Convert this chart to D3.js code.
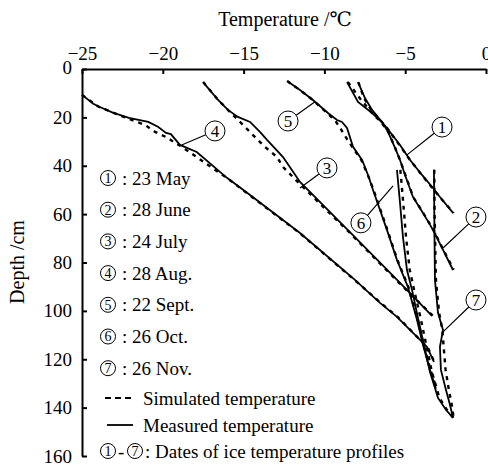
<!DOCTYPE html>
<html>
<head>
<meta charset="utf-8">
<script src="https://cdn.jsdelivr.net/npm/d3@7"></script>
<style>
  body { margin: 0; background: #fff; }
  svg text { font-family: "Liberation Serif", "Times New Roman", Tinos, "DejaVu Serif", serif; fill: #000; }
</style>
</head>
<body>
<div id="chart"></div>
<script>
// profile dates
var profileNames = ["23 May", "28 June", "24 July", "28 Aug.", "22 Sept.", "26 Oct.", "26 Nov."];

// measured profiles: [temperature, depth]
var measured1 = [[-7.92,5.4],[-7.49,12.0],[-7.05,16.9],[-6.44,21.9],[-6.13,24.4],[-5.32,31.4],[-4.7,37.6],[-3.96,43.8],[-3.28,49.2],[-2.85,52.9],[-2.04,59.5]];
var measured2 = [[-8.6,5.4],[-7.92,13.6],[-7.05,18.2],[-6.44,21.9],[-6.06,26.0],[-5.63,32.6],[-5.32,37.6],[-5.01,43.8],[-4.52,52.9],[-3.9,59.5],[-3.28,66.5],[-2.66,74.8],[-2.04,83.1]];
var measured3 = [[-17.51,5.4],[-16.58,12.8],[-15.97,16.9],[-15.35,19.8],[-14.6,21.9],[-13.99,26.0],[-13.55,29.3],[-12.56,36.4],[-11.51,46.7],[-8.42,67.4],[-5.32,88.4],[-3.34,102.1]];
var measured4 = [[-25,10.7],[-24.3,14.4],[-23.9,15.7],[-23.1,18.0],[-22.1,20.2],[-20.9,21.9],[-20.3,23.9],[-19.8,26.4],[-19.5,26.9],[-18.94,31.4],[-17.9,34.3],[-16.03,45.0],[-14.6,52.1],[-11.51,67.8],[-8.11,87.2],[-6.56,96.7],[-5.51,102.5],[-4.08,112.0],[-3.65,114.9],[-3.22,121.1]];
var measured5 = [[-12.31,5.0],[-11.51,8.7],[-10.71,12.8],[-9.78,18.2],[-9.22,21.1],[-8.91,21.9],[-8.6,24.4],[-8.23,32.2],[-7.67,37.6],[-7.3,43.8],[-6.99,50.0],[-6.13,66.5],[-5.51,78.9],[-4.83,90.1],[-4.27,103.7],[-3.9,114.0],[-3.47,124.4],[-3.1,132.2]];
var measured6 = [[-5.51,41.7],[-5.32,55.4],[-5.14,69.4],[-4.89,83.1],[-4.58,91.3],[-4.21,102.9],[-3.84,114.0],[-3.47,125.2],[-2.97,136.0],[-2.48,140.9],[-2.04,144.2]];
var measured7 = [[-3.22,41.7],[-3.2,60.0],[-3.16,87.2],[-2.97,100.8],[-2.66,107.9],[-2.85,114.9],[-2.79,124.4],[-2.48,132.6],[-2.23,138.8],[-2.04,144.2]];

// simulated profiles: [temperature, depth]
var simulated1 = [[-7.9,5.4],[-7.55,12.0],[-7.1,17.0],[-6.5,21.5],[-6.1,24.6],[-5.35,31.5],[-4.7,37.6],[-3.95,44.0],[-3.3,49.4],[-2.8,53.4],[-2.0,59.5]];
var simulated2 = [[-8.55,5.4],[-7.75,12.6],[-7.0,18.6],[-6.45,22.2],[-6.0,26.6],[-5.6,33.0],[-5.3,38.0],[-4.98,44.0],[-4.5,53.0],[-3.88,59.6],[-3.25,66.6],[-2.62,75.0],[-2.0,83.0]];
var simulated3 = [[-17.5,5.4],[-16.6,12.6],[-15.9,17.4],[-15.22,21.9],[-14.42,27.3],[-13.68,32.2],[-12.93,36.4],[-12.56,40.5],[-12.25,42.6],[-11.6,47.0],[-8.45,67.6],[-5.35,88.6],[-3.3,102.0]];
var simulated4 = [[-25,10.7],[-24.0,15.5],[-22.5,19.6],[-21.6,21.9],[-21.1,23.1],[-20.48,26.0],[-19.68,28.5],[-19.25,30.6],[-18.9,31.8],[-16.0,45.2],[-14.6,52.3],[-11.5,68.0],[-8.1,87.4],[-6.5,96.8],[-5.45,102.6],[-4.05,112.2],[-3.6,115.2],[-3.2,121.0]];
var simulated5 = [[-12.3,5.0],[-11.5,8.8],[-10.7,12.9],[-9.8,18.4],[-9.3,21.6],[-8.97,25.0],[-8.6,29.0],[-8.2,33.0],[-7.7,37.8],[-7.3,44.0],[-6.95,50.2],[-6.1,66.6],[-5.48,79.0],[-4.8,90.2],[-4.22,103.8],[-3.86,114.2],[-3.42,124.6],[-3.05,132.4]];
var simulated6 = [[-5.3,41.7],[-5.12,55.4],[-4.95,69.4],[-4.72,83.1],[-4.45,91.3],[-4.05,102.9],[-3.7,114.0],[-3.35,125.2],[-2.88,136.0],[-2.42,140.9],[-2.02,144.2]];
var simulated7 = [[-3.2,41.7],[-3.18,60.0],[-3.1,87.2],[-2.9,100.8],[-2.7,107.9],[-2.62,114.9],[-2.5,124.4],[-2.3,132.6],[-2.12,138.8],[-2.0,144.2]];

var xTicks = [-25, -20, -15, -10, -5, 0];
var yTicks = [0, 20, 40, 60, 80, 100, 120, 140, 160];

var measured = [measured1, measured2, measured3, measured4, measured5, measured6, measured7];
var simulated = [simulated1, simulated2, simulated3, simulated4, simulated5, simulated6, simulated7];

var FONT = '"Liberation Serif", "Times New Roman", Tinos, "DejaVu Serif", serif';
var width = 488, height = 466;

var svg = d3.select("#chart").append("svg")
  .attr("width", width)
  .attr("height", height)
  .style("font-family", FONT);

var x = d3.scaleLinear().domain([-25, 0]).range([82, 486]);
var y = d3.scaleLinear().domain([0, 160]).range([69, 456]);

// axes, ticks point inward
var xAxis = svg.append("g")
  .attr("transform", "translate(0," + y(0) + ")")
  .call(d3.axisTop(x).tickValues(xTicks).tickSize(-5).tickSizeOuter(0).tickPadding(9));
var yAxis = svg.append("g")
  .attr("transform", "translate(" + x(-25) + ",0)")
  .call(d3.axisLeft(y).tickValues(yTicks).tickSize(-5).tickSizeOuter(0).tickPadding(10));

[xAxis, yAxis].forEach(function(g) {
  g.attr("font-family", FONT).attr("font-size", 19);
  g.selectAll("path, line").attr("stroke", "#000").attr("stroke-width", 2);
  g.selectAll("text").style("font-size", "19px").style("font-family", FONT);
});
// the depth "0" sits just under the corner
yAxis.selectAll(".tick text").filter(function(d) { return d === 0; }).attr("dy", "0.25em");

// axis titles
svg.append("text")
  .attr("x", 285).attr("y", 26)
  .attr("text-anchor", "middle")
  .style("font-size", "20px")
  .text("Temperature /℃");

svg.append("text")
  .attr("transform", "translate(24,262) rotate(-90)")
  .attr("text-anchor", "middle")
  .style("font-size", "20px")
  .text("Depth /cm");

var line = d3.line()
  .x(function(d) { return x(d[0]); })
  .y(function(d) { return y(d[1]); });

svg.append("g").selectAll("path")
  .data(measured)
  .enter().append("path")
  .attr("d", line)
  .attr("fill", "none")
  .attr("stroke", "#000")
  .attr("stroke-width", 1.8);

svg.append("g").selectAll("path")
  .data(simulated)
  .enter().append("path")
  .attr("d", line)
  .attr("fill", "none")
  .attr("stroke", "#000")
  .attr("stroke-width", 2.4)
  .attr("stroke-dasharray", "4,5");

// circled callouts: [circle centre], [leader end], in data units
var callouts = [
  {n: "1", c: [-2.72, 24.0], e: [-4.89, 35.5]},
  {n: "2", c: [-0.62, 61.2], e: [-2.66, 74.0]},
  {n: "3", c: [-9.84, 40.9], e: [-11.51, 49.2]},
  {n: "4", c: [-16.77, 25.6], e: [-18.83, 31.4]},
  {n: "5", c: [-12.25, 21.5], e: [-10.58, 13.5]},
  {n: "6", c: [-7.74, 63.6], e: [-5.75, 48.3]},
  {n: "7", c: [-0.62, 95.5], e: [-2.66, 108.7]}
];

function circled(g, cx, cy, r, digit, fs) {
  g.append("circle").attr("cx", cx).attr("cy", cy).attr("r", r)
    .attr("fill", "#fff").attr("stroke", "#000").attr("stroke-width", 1);
  g.append("text").attr("x", cx).attr("y", cy)
    .attr("text-anchor", "middle").attr("dy", "0.35em")
    .style("font-size", fs + "px")
    .text(digit);
}

var cg = svg.append("g");
callouts.forEach(function(d) {
  var cx = x(d.c[0]), cy = y(d.c[1]);
  var ex = x(d.e[0]), ey = y(d.e[1]);
  var len = Math.sqrt((ex - cx) * (ex - cx) + (ey - cy) * (ey - cy));
  var sx = cx + (ex - cx) / len * 10, sy = cy + (ey - cy) / len * 10;
  cg.append("line")
    .attr("x1", sx).attr("y1", sy).attr("x2", ex).attr("y2", ey)
    .attr("stroke", "#000").attr("stroke-width", 1.2);
  circled(cg, cx, cy, 10, d.n, 17);
});

// legend
var lg = svg.append("g");
var rowY = 178, rowStep = 31.7;
profileNames.forEach(function(name, i) {
  var yy = rowY + i * rowStep;
  circled(lg, 108, yy, 7.5, String(i + 1), 14);
  lg.append("text").attr("x", 122).attr("y", yy).attr("dy", "0.35em")
    .style("font-size", "19px").text(": " + name);
});

lg.append("line").attr("x1", 105).attr("x2", 134).attr("y1", 398).attr("y2", 398)
  .attr("stroke", "#000").attr("stroke-width", 2.2).attr("stroke-dasharray", "6,4");
lg.append("text").attr("x", 143).attr("y", 398).attr("dy", "0.35em")
  .style("font-size", "19px").text("Simulated temperature");

lg.append("line").attr("x1", 107).attr("x2", 133).attr("y1", 425).attr("y2", 425)
  .attr("stroke", "#000").attr("stroke-width", 1.8);
lg.append("text").attr("x", 143).attr("y", 425).attr("dy", "0.35em")
  .style("font-size", "19px").text("Measured temperature");

circled(lg, 108, 451, 7.5, "1", 14);
lg.append("text").attr("x", 118).attr("y", 451).attr("dy", "0.35em")
  .style("font-size", "19px").text("-");
circled(lg, 135, 451, 7.5, "7", 14);
lg.append("text").attr("x", 145).attr("y", 451).attr("dy", "0.35em")
  .style("font-size", "19px").text(": Dates of ice temperature profiles");
</script>
</body>
</html>
